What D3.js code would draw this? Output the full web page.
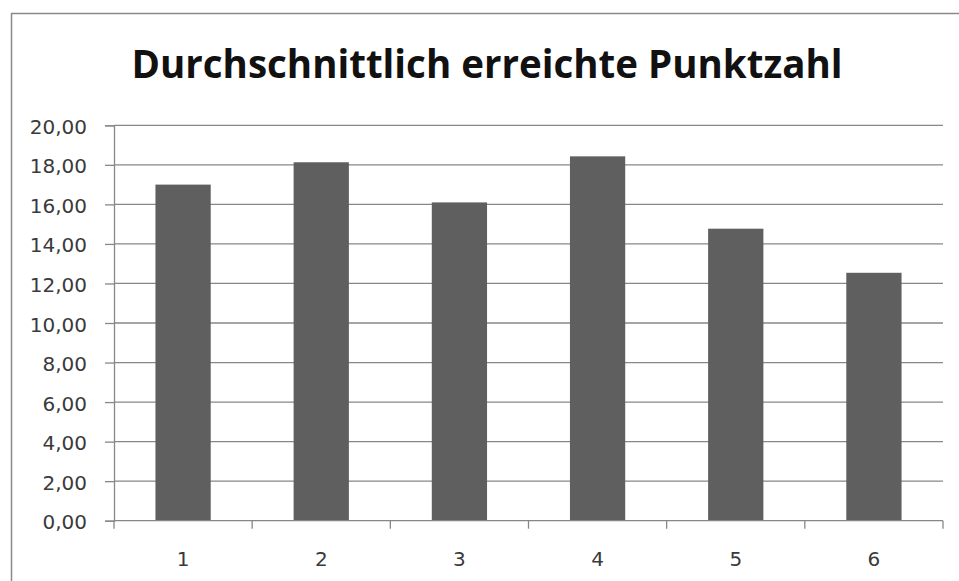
<!DOCTYPE html>
<html>
<head>
<meta charset="utf-8">
<script src="https://cdn.jsdelivr.net/npm/d3@7/dist/d3.min.js"></script>
<style>
  html, body { margin: 0; padding: 0; background: #fff; }
  svg { display: block; }
</style>
</head>
<body>
<svg id="chart" width="959" height="581"></svg>
<script>
// Average points reached per task
const categories = ["1", "2", "3", "4", "5", "6"];
const values = [17.0, 18.13, 16.1, 18.43, 14.77, 12.54];
const yTicks = [0, 2, 4, 6, 8, 10, 12, 14, 16, 18, 20];
const titleText = "Durchschnittlich erreichte Punktzahl";

const svg = d3.select("#chart");
const W = 959, H = 581;
const margin = { left: 114, right: W - 943, top: 125.3, bottom: H - 520.7 };
const labelFont = "'DejaVu Sans', 'Noto Sans', sans-serif";

// Outer chart frame
svg.append("rect")
  .attr("x", 11.5).attr("y", 13.5)
  .attr("width", W + 10).attr("height", H + 10)
  .attr("fill", "#fff")
  .attr("stroke", "#8a8a8a")
  .attr("stroke-width", 1.5);

const x = d3.scaleBand()
  .domain(categories)
  .range([margin.left, W - margin.right])
  .paddingInner(0.6)
  .paddingOuter(0.3);

const xTickBand = d3.scaleBand()
  .domain(categories)
  .range([margin.left, W - margin.right]);

const y = d3.scaleLinear()
  .domain([0, 20])
  .range([H - margin.bottom, margin.top]);

// Gridlines
svg.append("g")
  .selectAll("line")
  .data(yTicks.filter(d => d > 0))
  .join("line")
  .attr("x1", margin.left)
  .attr("x2", W - margin.right)
  .attr("y1", d => y(d))
  .attr("y2", d => y(d))
  .attr("stroke", "#878787")
  .attr("stroke-width", 1.3);

// Bars
svg.append("g")
  .selectAll("rect")
  .data(values)
  .join("rect")
  .attr("x", (d, i) => x(categories[i]))
  .attr("width", x.bandwidth())
  .attr("y", d => y(d))
  .attr("height", d => y(0) - y(d))
  .attr("fill", "#5f5f5f");

// Y axis
const yAxis = d3.axisLeft(y)
  .tickValues(yTicks)
  .tickSize(9)
  .tickPadding(18)
  .tickFormat(d => d3.format(".2f")(d).replace(".", ","));

const gy = svg.append("g")
  .attr("transform", `translate(${margin.left},0)`)
  .call(yAxis);
gy.select(".domain").attr("stroke", "#878787").attr("stroke-width", 1.3);
gy.selectAll(".tick line").attr("stroke", "#878787").attr("stroke-width", 1.3);
gy.selectAll(".tick text")
  .attr("fill", "#3a3a3a")
  .attr("dy", "0.4em")
  .style("font-family", labelFont)
  .style("font-size", "20px");

// X axis: ticks at band boundaries, labels centred in each band
const gx = svg.append("g")
  .attr("transform", `translate(0,${y(0)})`);
gx.append("line")
  .attr("x1", margin.left).attr("x2", W - margin.right)
  .attr("stroke", "#878787").attr("stroke-width", 1.3);
const boundaries = categories.map(c => xTickBand(c)).concat([W - margin.right]);
gx.selectAll("line.tk")
  .data(boundaries)
  .join("line")
  .attr("class", "tk")
  .attr("x1", d => d).attr("x2", d => d)
  .attr("y1", 0).attr("y2", 8)
  .attr("stroke", "#878787").attr("stroke-width", 1.3);
gx.selectAll("text")
  .data(categories)
  .join("text")
  .attr("x", d => xTickBand(d) + xTickBand.bandwidth() / 2)
  .attr("y", 38)
  .attr("dy", "0.36em")
  .attr("text-anchor", "middle")
  .attr("fill", "#3a3a3a")
  .style("font-family", labelFont)
  .style("font-size", "20px")
  .text(d => d);

// Title
svg.append("text")
  .attr("x", 487)
  .attr("y", 78)
  .attr("text-anchor", "middle")
  .attr("fill", "#111")
  .attr("textLength", 711)
  .attr("lengthAdjust", "spacingAndGlyphs")
  .style("font-family", "'Open Sans', 'Noto Sans', sans-serif")
  .style("font-weight", "bold")
  .style("font-size", "39px")
  .text(titleText);
</script>
</body>
</html>
